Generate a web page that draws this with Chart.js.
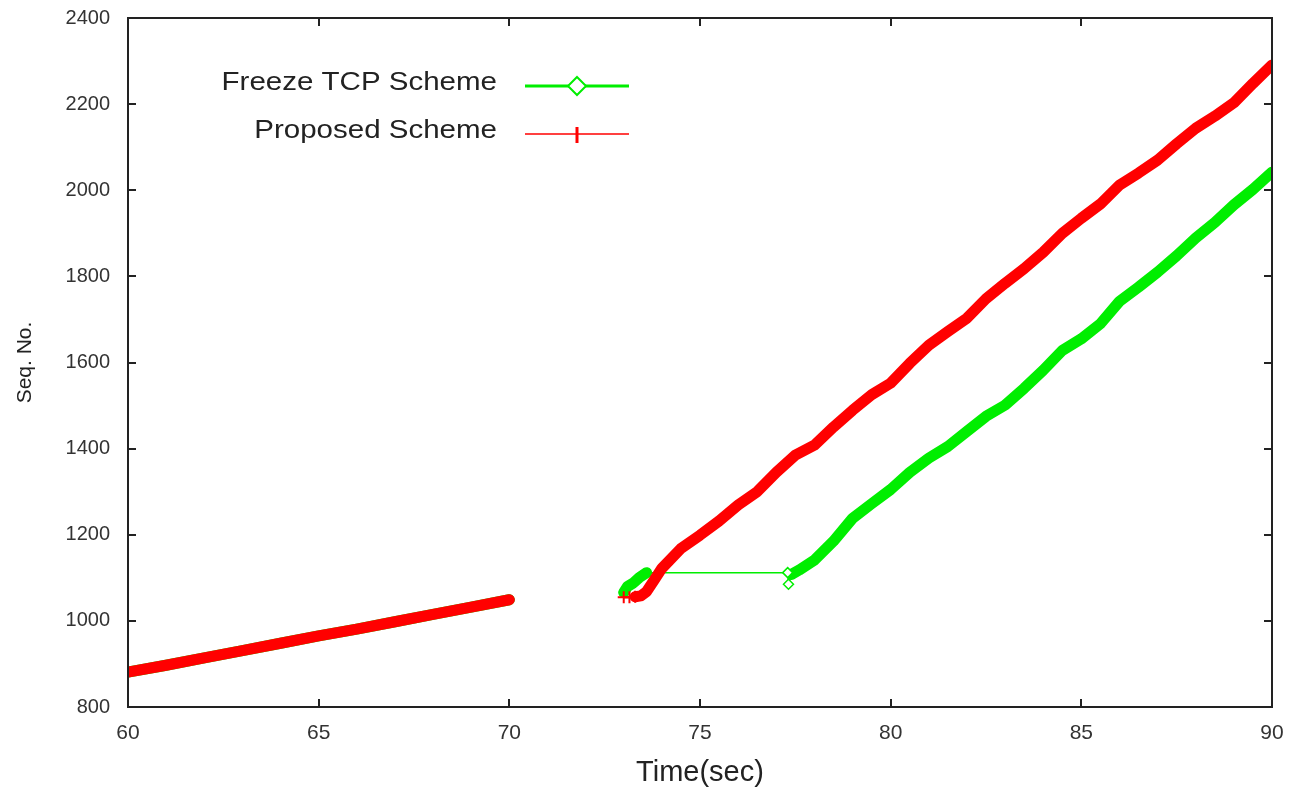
<!DOCTYPE html>
<html>
<head>
<meta charset="utf-8">
<title>Seq. No. vs Time</title>
<script src="https://cdn.jsdelivr.net/npm/chart.js@4/dist/chart.umd.min.js"></script>
<style>
  html, body { margin: 0; padding: 0; background: #fff; }
  #wrap { width: 1293px; height: 790px; }
</style>
</head>
<body>
<div id="wrap"><canvas id="seqChart" width="1293" height="790"></canvas></div>
<script>
// values
const xTicks = [60, 65, 70, 75, 80, 85, 90];
const yTicks = [800, 1000, 1200, 1400, 1600, 1800, 2000, 2200, 2400];

const freezeTime = [60, 61, 62, 63, 64, 65, 66, 67, 68, 69, 70, 71.5,
  73.0, 73.1, 73.25, 73.4, 73.6, 77.3, 77.32, 77.4, 77.6, 78, 78.5, 79, 79.5, 80, 80.5,
  81, 81.5, 82, 82.5, 83, 83.5, 84, 84.5, 85, 85.5, 86, 86.5, 87, 87.5, 88, 88.5,
  89, 89.5, 90];
const freezeSeq = [881, 897, 914, 931, 948, 965, 981, 998, 1015, 1032, 1049, null,
  1066, 1080, 1088, 1100, 1112, 1112, 1085, 1108, 1118, 1141, 1185, 1238, 1272, 1305, 1345,
  1378, 1405, 1440, 1475, 1501, 1540, 1582, 1628, 1655, 1690, 1742, 1775, 1810, 1848, 1889, 1925,
  1966, 2002, 2042];

const proposedTime = [60, 61, 62, 63, 64, 65, 66, 67, 68, 69, 70, 71.5,
  73.0, 73.15, 73.3, 73.45, 73.6, 73.8, 74, 74.5, 75, 75.5, 76, 76.5, 77, 77.5, 78, 78.5,
  79, 79.5, 80, 80.5, 81, 81.5, 82, 82.5, 83, 83.5, 84, 84.5, 85, 85.5, 86, 86.5,
  87, 87.5, 88, 88.5, 89, 89.5, 90];
const proposedSeq = [881, 897, 914, 931, 948, 965, 981, 998, 1015, 1032, 1049, null,
  1055, 1055, 1056, 1058, 1068, 1095, 1122, 1168, 1199, 1232, 1269, 1300, 1345, 1385, 1408, 1450,
  1489, 1525, 1552, 1598, 1640, 1672, 1703, 1748, 1784, 1818, 1856, 1900, 1935, 1968, 2012, 2040,
  2070, 2108, 2144, 2172, 2203, 2248, 2291];

const green = '#00ee00';
const red = '#ff0000';
const ink = '#222';

const toPoints = (xs, ys) => xs.map((x, i) => ({ x: x, y: ys[i] }));

// gnuplot-like frame with inward ticks on all four sides
const framePlugin = {
  id: 'frame',
  afterDatasetsDraw(chart) {
    const { ctx, chartArea: a, scales } = chart;
    ctx.save();
    ctx.strokeStyle = ink;
    ctx.lineWidth = 2;
    ctx.beginPath();
    ctx.rect(a.left, a.top, a.right - a.left, a.bottom - a.top);
    const len = 8;
    xTicks.forEach(v => {
      const px = Math.round(scales.x.getPixelForValue(v));
      ctx.moveTo(px, a.bottom); ctx.lineTo(px, a.bottom - len);
      ctx.moveTo(px, a.top); ctx.lineTo(px, a.top + len);
    });
    yTicks.forEach(v => {
      const py = Math.round(scales.y.getPixelForValue(v));
      ctx.moveTo(a.left, py); ctx.lineTo(a.left + len, py);
      ctx.moveTo(a.right, py); ctx.lineTo(a.right - len, py);
    });
    ctx.stroke();
    ctx.restore();
  }
};

// legend drawn inside the plot, text left of the sample line
const keyPlugin = {
  id: 'key',
  afterDatasetsDraw(chart) {
    const { ctx } = chart;
    const textRight = 497, x0 = 525, x1 = 629, mid = 577;
    const rows = [83, 131];
    ctx.save();
    chart.data.datasets.forEach((ds, i) => {
      const y = rows[i];
      ctx.save();
      ctx.translate(textRight, y);
      ctx.scale(1.18, 1);
      ctx.font = '25px "Liberation Sans", Arial, sans-serif';
      ctx.fillStyle = ink;
      ctx.textAlign = 'right';
      ctx.textBaseline = 'middle';
      ctx.fillText(ds.label, 0, 0);
      ctx.restore();
      const ly = y + 3;
      ctx.strokeStyle = ds.borderColor;
      ctx.beginPath();
      if (ds.keyStyle === 'diamond') {
        ctx.lineWidth = 3;
        ctx.moveTo(x0, ly); ctx.lineTo(x1, ly);
        ctx.stroke();
        ctx.lineWidth = 2;
        ctx.beginPath();
        ctx.moveTo(mid, ly - 9); ctx.lineTo(mid + 9, ly); ctx.lineTo(mid, ly + 9); ctx.lineTo(mid - 9, ly);
        ctx.closePath();
        ctx.fillStyle = '#fff';
        ctx.fill();
        ctx.stroke();
      } else {
        ctx.lineWidth = 1.5;
        ctx.moveTo(x0, ly); ctx.lineTo(x1, ly);
        ctx.stroke();
        ctx.lineWidth = 3;
        ctx.beginPath();
        ctx.moveTo(mid, ly - 7); ctx.lineTo(mid, ly + 9);
        ctx.stroke();
      }
    });
    ctx.restore();
  }
};

new Chart(document.getElementById('seqChart'), {
  type: 'line',
  data: {
    datasets: [
      {
        label: 'Freeze TCP Scheme',
        keyStyle: 'diamond',
        data: toPoints(freezeTime, freezeSeq),
        borderColor: green,
        backgroundColor: '#fff',
        borderWidth: 11,
        borderJoinStyle: 'round',
        borderCapStyle: 'round',
        spanGaps: false,
        order: 1,
        pointStyle: 'rectRot',
        pointBorderWidth: 1.5,
        pointRadius: c => (c.raw && c.raw.x > 77.25 && c.raw.x < 77.35) ? 5 : 0,
        segment: {
          borderWidth: c => {
            const a = c.p0.parsed.x, b = c.p1.parsed.x;
            if (b - a > 1) return 1.5;
            if (a >= 77.3 && b <= 77.4) return 1.5;
            return 11;
          }
        }
      },
      {
        label: 'Proposed Scheme',
        keyStyle: 'tick',
        data: toPoints(proposedTime, proposedSeq),
        borderColor: red,
        backgroundColor: red,
        borderWidth: 11,
        borderJoinStyle: 'round',
        borderCapStyle: 'round',
        spanGaps: false,
        order: 0,
        pointStyle: 'cross',
        pointBorderWidth: 2,
        pointRadius: c => (c.raw && c.raw.x >= 73 && c.raw.x < 73.4) ? 6 : 0,
        segment: {
          borderWidth: c => (c.p0.parsed.x >= 73 && c.p1.parsed.x <= 73.3 ? 2 : 11)
        }
      }
    ]
  },
  options: {
    responsive: false,
    animation: false,
    devicePixelRatio: 1,
    layout: { padding: { left: 0, top: 18, right: 21, bottom: 0 } },
    plugins: { legend: { display: false }, tooltip: { enabled: false } },
    scales: {
      x: {
        type: 'linear',
        min: 60,
        max: 90,
        afterBuildTicks: s => { s.ticks = xTicks.map(v => ({ value: v })); },
        afterFit: s => { s.height = 83; s.paddingLeft = 0; s.paddingRight = 0; },
        grid: { display: false },
        border: { display: false },
        ticks: {
          padding: 6,
          color: '#333',
          callback: v => String(v),
          font: { family: '"Liberation Sans", sans-serif', size: 21 }
        },
        title: {
          display: true,
          text: 'Time(sec)',
          color: ink,
          padding: { top: 0, bottom: 0 },
          font: { family: '"Liberation Sans", sans-serif', size: 29 }
        }
      },
      y: {
        min: 800,
        max: 2400,
        afterBuildTicks: s => { s.ticks = yTicks.map(v => ({ value: v })); },
        afterFit: s => { s.width = 128; s.paddingTop = 0; s.paddingBottom = 0; },
        grid: { display: false },
        border: { display: false },
        ticks: {
          padding: 10,
          color: '#333',
          callback: v => String(v),
          font: { family: '"Liberation Sans", sans-serif', size: 20 }
        },
        title: {
          display: true,
          text: 'Seq. No.',
          color: ink,
          padding: { top: 13, bottom: 0 },
          font: { family: '"Liberation Sans", sans-serif', size: 21 }
        }
      }
    }
  },
  plugins: [framePlugin, keyPlugin]
});
</script>
</body>
</html>
